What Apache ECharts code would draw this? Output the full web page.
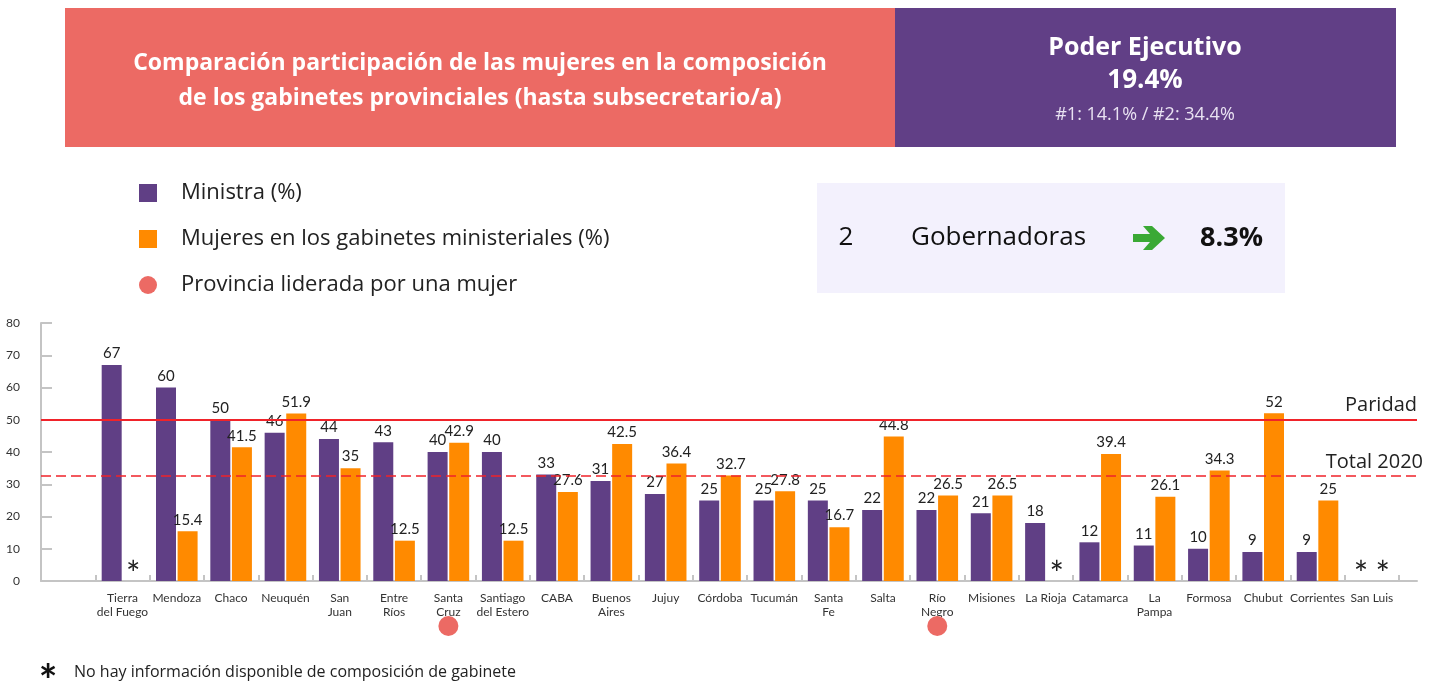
<!DOCTYPE html>
<html>
<head>
<meta charset="utf-8">
<script src="https://cdn.jsdelivr.net/npm/echarts@6/dist/echarts.min.js"></script>
<style>
  html, body { margin: 0; padding: 0; background: #fff; }
  #chart { width: 1440px; height: 684px; }
</style>
</head>
<body>
<div id="chart"></div>
<script>
"use strict";

// ── 数据 ──
const provincias = [
  "Tierra\ndel Fuego", "Mendoza", "Chaco", "Neuquén", "San\nJuan", "Entre\nRíos",
  "Santa\nCruz", "Santiago\ndel Estero", "CABA", "Buenos\nAires", "Jujuy", "Córdoba",
  "Tucumán", "Santa\nFe", "Salta", "Río\nNegro", "Misiones", "La Rioja",
  "Catamarca", "La\nPampa", "Formosa", "Chubut", "Corrientes", "San Luis"
];
const ministra = [67, 60, 50, 46, 44, 43, 40, 40, 33, 31, 27, 25, 25, 25, 22, 22, 21, 18, 12, 11, 10, 9, 9, null];
const gabinete = [null, 15.4, 41.5, 51.9, 35, 12.5, 42.9, 12.5, 27.6, 42.5, 36.4, 32.7, 27.8, 16.7, 44.8, 26.5, 26.5, null, 39.4, 26.1, 34.3, 52, 25, null];
const lideradas = ["Santa\nCruz", "Río\nNegro"];
const paridad = 50;
const total2020 = 32.6;

const FONT = "Lato";
const BIG = "Open Sans";
const PURPLE = "#603f85";
const ORANGE = "#ff8a00";
const CORAL = "#ec6a64";

const categorias = [""].concat(provincias);

function toData(arr) {
  // null = sin información → asterisco sobre la base
  return [null].concat(arr.map(v => v == null
    ? { value: 0, label: { formatter: "*", fontSize: 34, distance: -11 } }
    : v));
}

const barLabel = { show: true, position: "top", distance: 4, fontSize: 15, color: "#222", fontFamily: FONT };

const chart = echarts.init(document.getElementById("chart"));

chart.setOption({
  backgroundColor: "#fff",
  animation: false,
  textStyle: { fontFamily: FONT },
  legend: {
    orient: "vertical", left: 139, top: 181, padding: 0,
    itemWidth: 18, itemHeight: 18, itemGap: 22,
    selectedMode: false,
    textStyle: { fontSize: 22, color: "#222", lineHeight: 24, padding: [0, 0, 0, 19], fontFamily: BIG },
    data: [
      { name: "Ministra (%)", icon: "rect" },
      { name: "Mujeres en los gabinetes ministeriales (%)", icon: "rect" },
      { name: "Provincia liderada por una mujer", icon: "circle" }
    ]
  },
  grid: [
    { left: 41, top: 323, width: 1358, height: 258 },
    { left: 41, top: 323, width: 1376, height: 258 }
  ],
  xAxis: [
    {
      type: "category", gridIndex: 0, data: categorias,
      axisLine: { show: false },
      axisTick: { show: true, inside: true, length: 6, lineStyle: { color: "#c4c4c4", width: 2 } },
      axisLabel: {
        interval: 0, margin: 10, fontSize: 12, color: "#333", lineHeight: 14, fontFamily: FONT,
        formatter: v => lideradas.includes(v) ? v + "\n{dot|}" : v,
        rich: { dot: { width: 20, height: 20, borderRadius: 10, backgroundColor: CORAL } }
      }
    },
    {
      type: "value", gridIndex: 1, min: 0, max: 1,
      axisLine: { show: true, lineStyle: { color: "#c4c4c4", width: 2 } },
      axisTick: { show: false }, axisLabel: { show: false }, splitLine: { show: false }
    }
  ],
  yAxis: [
    { type: "value", gridIndex: 0, min: 0, max: 80, interval: 10, show: false },
    {
      type: "value", gridIndex: 1, min: 0, max: 80, interval: 10,
      axisLine: { show: true, lineStyle: { color: "#c4c4c4", width: 2 } },
      axisTick: { show: true, inside: true, length: 11, lineStyle: { color: "#c4c4c4", width: 2 } },
      axisLabel: { fontSize: 12, color: "#333", margin: 21, fontFamily: FONT },
      splitLine: { show: false }
    }
  ],
  series: [
    {
      name: "Ministra (%)", type: "bar", xAxisIndex: 0, yAxisIndex: 0,
      data: toData(ministra), barWidth: 20, barGap: "8%",
      itemStyle: { color: PURPLE }, label: barLabel
    },
    {
      name: "Mujeres en los gabinetes ministeriales (%)", type: "bar", xAxisIndex: 0, yAxisIndex: 0,
      data: toData(gabinete), barWidth: 20, barGap: "8%",
      itemStyle: { color: ORANGE }, label: barLabel
    },
    {
      name: "Provincia liderada por una mujer", type: "scatter", xAxisIndex: 0, yAxisIndex: 0,
      data: [], itemStyle: { color: CORAL, opacity: 1 }
    },
    {
      name: "referencias", type: "line", xAxisIndex: 1, yAxisIndex: 1, data: [], z: 5,
      markLine: {
        silent: true, symbol: "none", animation: false,
        label: { position: "insideEndTop", fontSize: 20, color: "#222", fontFamily: BIG, distance: [0, 4] },
        data: [
          { yAxis: paridad, lineStyle: { color: "#f0232a", width: 2, type: "solid" }, label: { formatter: "Paridad" } },
          { yAxis: total2020, lineStyle: { color: "#f0232a", width: 1.5, type: [10, 5] }, label: { formatter: "Total 2020", offset: [6, 0] } }
        ]
      }
    }
  ],
  graphic: [
    { type: "rect", shape: { x: 65, y: 8, width: 830, height: 139 }, style: { fill: CORAL }, silent: true },
    { type: "rect", shape: { x: 895, y: 8, width: 501, height: 139 }, style: { fill: "#613f86" }, silent: true },
    {
      type: "text", x: 480, y: 81, silent: true,
      style: {
        text: "Comparación participación de las mujeres en la composición\nde los gabinetes provinciales (hasta subsecretario/a)",
        fill: "#fff", fontSize: 23, fontWeight: "bold", fontFamily: BIG, lineHeight: 35,
        align: "center", verticalAlign: "middle"
      }
    },
    { type: "text", x: 1145, y: 48, silent: true, style: { text: "Poder Ejecutivo", fill: "#fff", fontSize: 25, fontWeight: "bold", fontFamily: BIG, align: "center", verticalAlign: "middle" } },
    { type: "text", x: 1145, y: 81, silent: true, style: { text: "19.4%", fill: "#fff", fontSize: 26, fontWeight: "bold", fontFamily: BIG, align: "center", verticalAlign: "middle" } },
    { type: "text", x: 1145, y: 115, silent: true, style: { text: "#1: 14.1% / #2: 34.4%", fill: "#e9e2f2", fontSize: 18, fontFamily: BIG, align: "center", verticalAlign: "middle" } },
    { type: "rect", shape: { x: 817, y: 183, width: 468, height: 110 }, style: { fill: "#f3f1fd" }, silent: true },
    { type: "text", x: 846, y: 238, silent: true, style: { text: "2", fill: "#111", fontSize: 26, fontFamily: BIG, align: "center", verticalAlign: "middle" } },
    { type: "text", x: 911, y: 238, silent: true, style: { text: "Gobernadoras", fill: "#111", fontSize: 26, fontFamily: BIG, align: "left", verticalAlign: "middle" } },
    {
      type: "polygon", silent: true,
      shape: { points: [[1133, 234], [1150, 234], [1143, 226], [1152, 226], [1165, 238], [1152, 250], [1143, 250], [1150, 242], [1133, 242]] },
      style: { fill: "#3aa935" }
    },
    { type: "text", x: 1263, y: 238, silent: true, style: { text: "8.3%", fill: "#111", fontSize: 27, fontWeight: "bold", fontFamily: BIG, align: "right", verticalAlign: "middle" } },
    { type: "text", x: 48, y: 682, silent: true, style: { text: "*", fill: "#111", fontSize: 44, fontWeight: "bold", fontFamily: FONT, align: "center", verticalAlign: "middle" } },
    { type: "text", x: 74, y: 672, silent: true, style: { text: "No hay información disponible de composición de gabinete", fill: "#222", fontSize: 16, fontFamily: BIG, align: "left", verticalAlign: "middle" } }
  ]
});
window.addEventListener("resize", () => chart.resize());
</script>
</body>
</html>
